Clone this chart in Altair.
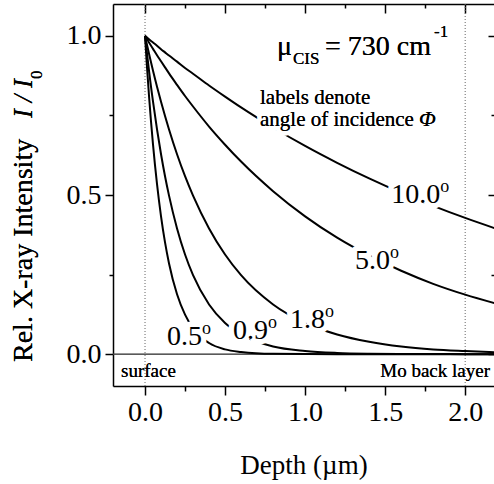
import altair as alt
import pandas as pd

# ---- data ----
depth_um = [0.0, 0.0125, 0.025, 0.05, 0.075, 0.1, 0.125, 0.15, 0.2, 0.25, 0.3,
            0.4, 0.5, 0.6, 0.8, 1.0, 1.2, 1.4, 1.6, 1.8, 2.0, 2.2]
i_10_0 = [1.000, 0.995, 0.989, 0.979, 0.969, 0.958, 0.948, 0.938, 0.919, 0.899, 0.881,
          0.844, 0.809, 0.775, 0.712, 0.654, 0.601, 0.552, 0.507, 0.466, 0.428, 0.393]
i_5_0 = [1.000, 0.990, 0.979, 0.959, 0.939, 0.920, 0.901, 0.882, 0.846, 0.811, 0.778,
         0.715, 0.658, 0.605, 0.512, 0.433, 0.366, 0.310, 0.262, 0.221, 0.187, 0.158]
i_1_8 = [1.000, 0.971, 0.944, 0.890, 0.840, 0.793, 0.748, 0.706, 0.628, 0.559, 0.498,
         0.395, 0.313, 0.248, 0.156, 0.098, 0.062, 0.039, 0.024, 0.015, 0.010, 0.006]
i_0_9 = [1.000, 0.944, 0.890, 0.793, 0.706, 0.628, 0.559, 0.498, 0.395, 0.313, 0.248,
         0.156, 0.098, 0.062, 0.024, 0.010, 0.004, 0.0015, 0.0006, 0.0002, 0.0001, 0.0]
i_0_5 = [1.000, 0.901, 0.811, 0.658, 0.534, 0.433, 0.351, 0.285, 0.188, 0.124, 0.081,
         0.035, 0.015, 0.007, 0.001, 0.0002, 0.0, 0.0, 0.0, 0.0, 0.0, 0.0]

angle_labels = ["10.0", "5.0", "1.8", "0.9", "0.5"]
label_depth = [1.844, 1.531, 1.125, 0.769, 0.356]
label_int = [0.474, 0.268, 0.083, 0.049, 0.030]
marker_depth = [0.0, 2.0]

x_major = [0.0, 0.5, 1.0, 1.5, 2.0]
x_minor = [0.25, 0.75, 1.25, 1.75]
y_major = [0.0, 0.5, 1.0]
y_minor = [0.25, 0.75]

# ---- tables ----
series = {"10.0": i_10_0, "5.0": i_5_0, "1.8": i_1_8, "0.9": i_0_9, "0.5": i_0_5}
rows = []
for ang, vals in series.items():
    for d, v in zip(depth_um, vals):
        rows.append({"angle": ang, "depth": d, "intensity": v})
curves = pd.DataFrame(rows)
labels = pd.DataFrame({"txt": angle_labels, "lx": label_depth, "ly": label_int})
markers = pd.DataFrame({"depth": marker_depth})

F = "Liberation Serif"
xs = alt.Scale(domain=[-0.2, 2.18], nice=False, zero=False)
ys = alt.Scale(domain=[-0.1, 1.1], nice=False, zero=False)

# dotted surface / back-layer markers
dots = alt.Chart(markers).mark_rule(color="#666", strokeWidth=1, strokeDash=[1, 2]).encode(
    x=alt.X("depth:Q", scale=xs, axis=None))
zero = alt.Chart(markers).mark_rule(color="#444", strokeWidth=1).encode(
    y=alt.datum(0, scale=ys, axis=None))

# main curves with main axes
lines = alt.Chart(curves).mark_line(color="black", strokeWidth=2, interpolate="monotone", clip=True).encode(
    x=alt.X("depth:Q", scale=xs, axis=alt.Axis(
        orient="bottom", values=x_major, format=".1f", tickSize=9, tickWidth=1.5, tickColor="black",
        domain=True, domainColor="black", domainWidth=1.5, grid=False,
        labelFont=F, labelFontSize=28, labelColor="black", labelPadding=3,
        title="Depth (µm)", titleFont=F, titleFontSize=27, titleFontWeight="normal",
        titleColor="black", titleY=87, titleBaseline="alphabetic")),
    y=alt.Y("intensity:Q", scale=ys, axis=alt.Axis(
        orient="left", values=y_major, format=".1f", tickSize=8, tickWidth=1.5, tickColor="black",
        domain=True, domainColor="black", domainWidth=1.5, grid=False,
        labelFont=F, labelFontSize=28, labelColor="black", labelPadding=4, title=None)),
    detail="angle:N")


def axis_layer(xaxis, yaxis):
    return alt.Chart(curves).mark_point(opacity=0).encode(
        x=alt.X("depth:Q", scale=xs, axis=xaxis),
        y=alt.Y("intensity:Q", scale=ys, axis=yaxis))


common = dict(grid=False, labels=False, title=None, tickColor="black", tickWidth=1.5)
ax_minor = axis_layer(
    alt.Axis(orient="bottom", values=x_minor, tickSize=5, domain=False, **common),
    alt.Axis(orient="left", values=y_minor, tickSize=4, domain=False, **common))
ax_in_major = axis_layer(
    alt.Axis(orient="top", values=x_major, tickSize=9, offset=-9, domain=False, **common),
    alt.Axis(orient="right", values=y_major, tickSize=6, offset=-6, domain=False, **common))
ax_in_minor = axis_layer(
    alt.Axis(orient="top", values=x_minor, tickSize=4, offset=-4, domain=False, **common),
    alt.Axis(orient="right", values=y_minor, tickSize=3, offset=-3, domain=False, **common))
ax_frame = axis_layer(
    alt.Axis(orient="top", ticks=False, domain=True, domainColor="black", domainWidth=1.5,
             grid=False, labels=False, title=None),
    None)

# curve labels with white halo (masks the curve underneath)
lab = alt.Chart(labels).encode(
    x=alt.X("lx:Q", scale=xs, axis=None), y=alt.Y("ly:Q", scale=ys, axis=None))
lab_halo = lab.mark_text(align="right", baseline="alphabetic", font=F, fontSize=28,
                         fill="white", stroke="white", strokeWidth=11,
                         strokeJoin="round").encode(text="txt:N")
lab_txt = lab.mark_text(align="right", baseline="alphabetic", font=F, fontSize=28,
                        color="black").encode(text="txt:N")
deg_halo = lab.mark_text(align="left", baseline="alphabetic", font=F, fontSize=18, dx=0, dy=-11,
                         text="o", fill="white", stroke="white", strokeWidth=9, strokeJoin="round")
deg_txt = lab.mark_text(align="left", baseline="alphabetic", font=F, fontSize=18, dx=0, dy=-11,
                        text="o", color="black")


def txt(s, x, y, size, style="normal", angle=0, align="left", halo=0):
    kw = dict(text=s, align=align, baseline="alphabetic", font=F, fontSize=size, fontStyle=style)
    if angle:
        kw["angle"] = angle
    enc = dict(x=alt.value(x), y=alt.value(y))
    out = []
    if halo:
        out.append(alt.Chart(markers).mark_text(fill="white", stroke="white", strokeWidth=halo,
                                                strokeJoin="round", **kw).encode(**enc))
    out.append(alt.Chart(markers).mark_text(color="black", **kw).encode(**enc))
    return out


annots = []
annots += txt("μ", 164, 51, 28, halo=6)
annots += txt("CIS", 180, 60, 17, halo=6)
annots += txt("= 730 cm", 212, 51, 28, halo=6)
annots += txt("-1", 321, 33, 17, halo=6)
annots += txt("labels denote", 147, 100, 21, halo=9)
annots += txt("angle of incidence", 147, 122, 21, halo=9)
annots += txt("Φ", 306, 122, 22, style="italic", halo=9)
annots += txt("surface", 8, 373, 19)
annots += txt("Mo back layer", 377, 373, 19, align="right")
annots += txt("Rel. X-ray Intensity", -81, 358, 28, angle=270)
annots += txt("I / I", -81, 114, 27, style="italic", angle=270)
annots += txt("0", -71, 75, 17, angle=270)

chart = alt.layer(
    dots, zero, lines, ax_minor, ax_in_major, ax_in_minor, ax_frame,
    lab_halo, deg_halo, lab_txt, deg_txt, *annots
).resolve_axis(x="independent", y="independent").properties(
    width=381, height=382,
    autosize=alt.AutoSizeParams(type="none"),
    padding={"left": 113, "top": 4, "right": 0, "bottom": 98},
).configure_view(stroke=None).configure(background="white")

chart.save("out.html", embed_options={"renderer": "svg", "actions": False})
